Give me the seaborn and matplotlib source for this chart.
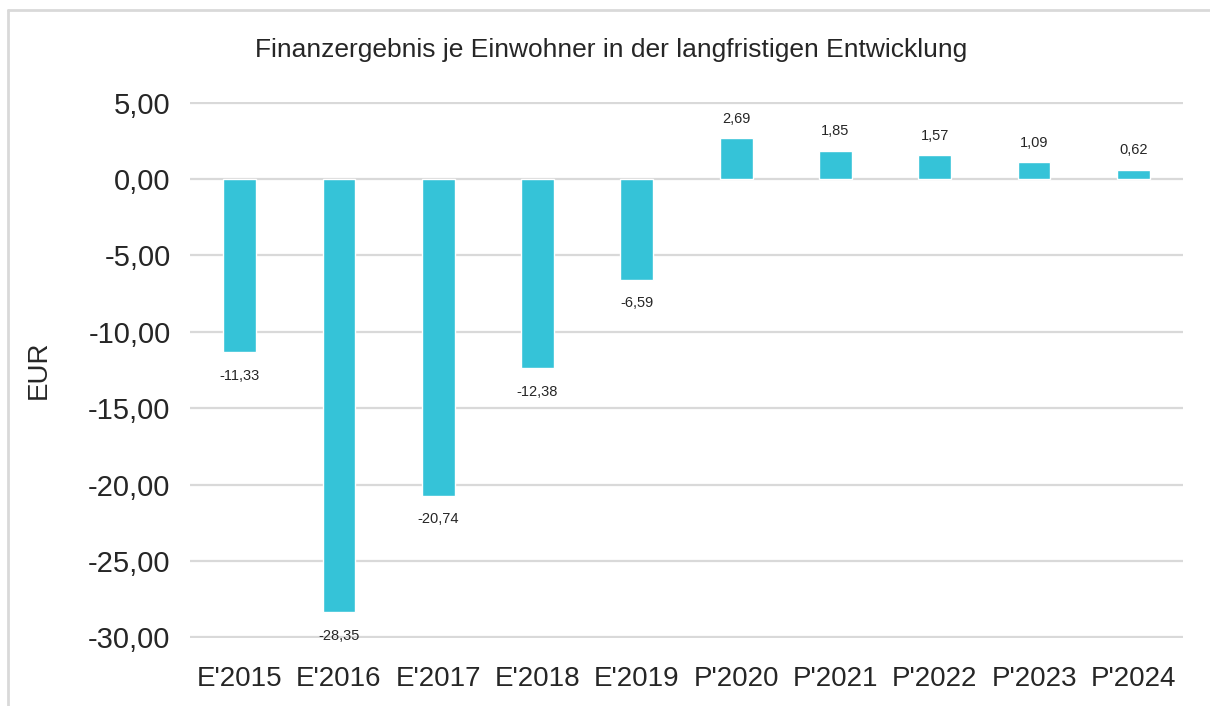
import matplotlib
matplotlib.use("Agg")
import pandas as pd
import seaborn as sns
import matplotlib.pyplot as plt
from matplotlib.lines import Line2D

years = ["E'2015", "E'2016", "E'2017", "E'2018", "E'2019",
         "P'2020", "P'2021", "P'2022", "P'2023", "P'2024"]
values = [-11.33, -28.35, -20.74, -12.38, -6.59, 2.69, 1.85, 1.57, 1.09, 0.62]
yticks = [5, 0, -5, -10, -15, -20, -25, -30]

title = "Finanzergebnis je Einwohner in der langfristigen Entwicklung"
bar_color = "#35C3D8"
grid_color = "#D9D9D9"
text_color = "#262626"

sns.set_theme(style="white")
plt.rcParams["font.family"] = ["Liberation Sans", "DejaVu Sans"]

df = pd.DataFrame({"year": years, "value": values})

fig = plt.figure(figsize=(12.1, 7.06), dpi=100)
ax = fig.add_axes([190 / 1210, 1 - 638 / 706, 993 / 1210, 536 / 706])

sns.barplot(data=df, x="year", y="value", color=bar_color, width=0.33,
            saturation=1, ax=ax, zorder=3)

ax.set_ylim(-30.05, 5.05)
ax.set_xlim(-0.5, len(years) - 0.5)
ax.set_yticks(yticks)
ax.set_yticklabels([f"{v:.2f}".replace(".", ",") for v in yticks])
ax.yaxis.grid(True, color=grid_color, linewidth=1.6, zorder=0)
ax.set_axisbelow(True)
for s in ax.spines.values():
    s.set_visible(False)
ax.tick_params(axis="y", labelsize=21, colors=text_color, length=0, pad=14)
ax.tick_params(axis="x", labelsize=20, colors=text_color, length=0, pad=20)
ax.set_xlabel("")
ax.set_ylabel("EUR", fontsize=20, color=text_color, labelpad=26)

for i, v in enumerate(values):
    off = 9 if v >= 0 else -12
    ax.annotate(f"{v:.2f}".replace(".", ","), (i, v), xytext=(0, off),
                textcoords="offset points", ha="center",
                va="bottom" if v >= 0 else "top", fontsize=10.5, color=text_color)

fig.text(0.505, 1 - 50 / 706, title, ha="center", va="center",
         fontsize=19, color=text_color)

# frame: only top and left edges are visible in the picture
bx, by = 8 / 1210, 1 - 10 / 706
fig.add_artist(Line2D([bx, 1.0], [by, by], transform=fig.transFigure,
                      color=grid_color, linewidth=2))
fig.add_artist(Line2D([bx, bx], [0.0, by], transform=fig.transFigure,
                      color=grid_color, linewidth=2))

fig.savefig("out.png", dpi=100)
